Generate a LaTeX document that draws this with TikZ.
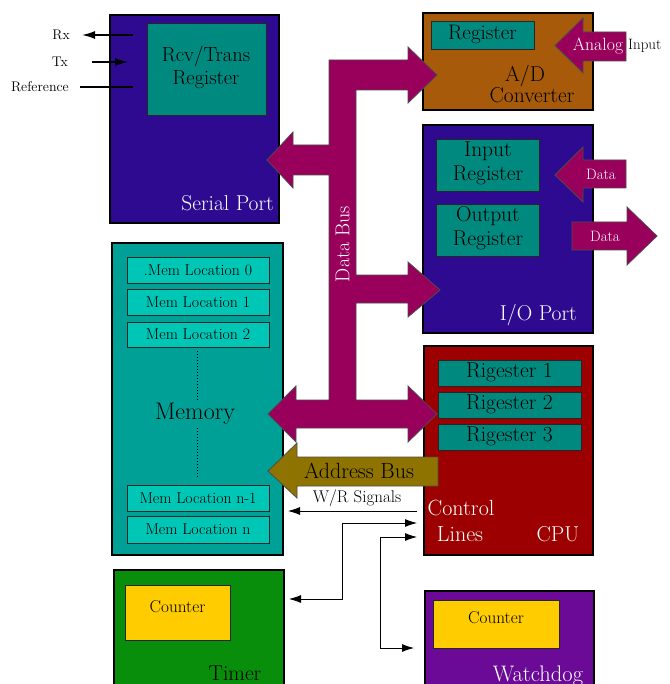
\documentclass[tikz,border=0pt]{standalone}
\usetikzlibrary{arrows.meta}
\definecolor{portblue}{HTML}{2E0A90}
\definecolor{regteal}{HTML}{00897E}
\definecolor{memteal}{HTML}{00A096}
\definecolor{loccyan}{HTML}{00C6B6}
\definecolor{adbrown}{HTML}{A65A0A}
\definecolor{busmag}{HTML}{99005C}
\definecolor{addrolive}{HTML}{8F7300}
\definecolor{cpured}{HTML}{9C0000}
\definecolor{timergreen}{HTML}{088E0A}
\definecolor{wdpurple}{HTML}{6A0A96}
\definecolor{cntyellow}{HTML}{FFCC00}
\begin{document}
\begin{tikzpicture}[x=1pt,y=-1pt,
  blk/.style={draw=black, line width=1.3pt, rectangle, anchor=north west, inner sep=0pt, outer sep=0pt},
  reg/.style={draw=black!85, line width=0.8pt, rectangle, anchor=north west, inner sep=0pt, outer sep=0pt, align=center},
  big/.style={font=\fontsize{21.5}{23}\selectfont},
  mid/.style={font=\fontsize{17.5}{19}\selectfont},
  loc/.style={font=\fontsize{15.8}{17}\selectfont},
  sml/.style={font=\fontsize{14}{16}\selectfont},
  bus/.style={draw=black!70, line width=0.8pt, fill=busmag},
  conn/.style={draw=black, line width=0.8pt, {Latex[length=12pt,width=8pt]}-{Latex[length=12pt,width=8pt]}},
  sig/.style={draw=black, line width=1.5pt}
]
\useasboundingbox (0,0) rectangle (669,684);
\clip (0,0) rectangle (669,684);
\fill[white] (0,0) rectangle (669,684);

% ---------- Serial port ----------
\node[blk, fill=portblue, minimum width=169pt, minimum height=208pt] (serial) at (110,15) {};
\node[reg, fill=regteal, minimum width=119pt, minimum height=92pt] (rcv) at (147,23) {};
\node[font=\fontsize{20.5}{23}\selectfont, align=center] (rcvtxt) at (206,67) {Rcv/Trans\\Register};
\node[big, text=white, anchor=base east, inner sep=0pt] (seriallbl) at (274,211) {Serial Port};

% ---------- A/D converter ----------
\node[blk, fill=adbrown, minimum width=170pt, minimum height=97pt] (ad) at (423,13) {};
\node[reg, fill=regteal, minimum width=103pt, minimum height=28pt] (adreg) at (431,21) {};
\node[font=\fontsize{21}{23}\selectfont, anchor=base, inner sep=0pt] (adregtxt) at (482.5,40) {Register};
\node[big, anchor=base, inner sep=0pt] (adlbl1) at (525,82) {A/D};
\node[big, anchor=base, inner sep=0pt] (adlbl2) at (532,103) {Converter};

% ---------- I/O port ----------
\node[blk, fill=portblue, minimum width=170pt, minimum height=208pt] (io) at (423,125) {};
\node[reg, fill=regteal, minimum width=103pt, minimum height=52pt] (inreg) at (436,139) {};
\node[big, anchor=base, inner sep=0pt] (inregtxt1) at (488,157) {Input};
\node[big, anchor=base, inner sep=0pt] (inregtxt2) at (488,181) {Register};
\node[reg, fill=regteal, minimum width=103pt, minimum height=52pt] (outreg) at (436,204) {};
\node[big, anchor=base, inner sep=0pt] (outregtxt1) at (488,222) {Output};
\node[big, anchor=base, inner sep=0pt] (outregtxt2) at (488,246) {Register};
\node[big, text=white, anchor=base east, inner sep=0pt] (iolbl) at (577,320) {I/O Port};

% ---------- Memory ----------
\node[blk, fill=memteal, minimum width=171pt, minimum height=312pt] (mem) at (112,243) {};
\node[reg, fill=loccyan, minimum width=142pt, minimum height=26pt] (loc0) at (127,257) {};
\node[loc] (loc0t) at (198,270) {.Mem Location 0};
\node[reg, fill=loccyan, minimum width=142pt, minimum height=26pt] (loc1) at (127,289) {};
\node[loc] (loc1t) at (198,302) {Mem Location 1};
\node[reg, fill=loccyan, minimum width=142pt, minimum height=25pt] (loc2) at (127,322) {};
\node[loc] (loc2t) at (198,334.5) {Mem Location 2};
\node[reg, fill=loccyan, minimum width=142pt, minimum height=26pt] (locn1) at (127,485) {};
\node[loc] (locn1t) at (198,498) {Mem Location n-1};
\node[reg, fill=loccyan, minimum width=142pt, minimum height=27pt] (locn) at (127,516) {};
\node[loc] (locnt) at (198,529.5) {Mem Location n};
\draw[dotted, line width=1pt] (197,351) -- (197,401);
\draw[dotted, line width=1pt] (197,428) -- (197,477);
\node[font=\fontsize{24}{26}\selectfont] (memlbl) at (195,414) {Memory};

% ---------- CPU ----------
\node[blk, fill=cpured, minimum width=169pt, minimum height=209pt] (cpu) at (424,346) {};
\node[reg, fill=regteal, minimum width=143pt, minimum height=26pt] (r1) at (438,360) {};
\node[big] (r1t) at (509.5,372) {Rigester 1};
\node[reg, fill=regteal, minimum width=143pt, minimum height=26pt] (r2) at (438,392) {};
\node[big] (r2t) at (509.5,404) {Rigester 2};
\node[reg, fill=regteal, minimum width=143pt, minimum height=26pt] (r3) at (438,424) {};
\node[big] (r3t) at (509.5,436) {Rigester 3};
\node[font=\fontsize{22}{24}\selectfont, text=white, anchor=base, inner sep=0pt] (ctl1) at (461,515) {Control};
\node[font=\fontsize{22}{24}\selectfont, text=white, anchor=base, inner sep=0pt] (ctl2) at (460,541) {Lines};
\node[big, text=white, anchor=base, inner sep=0pt] (cpulbl) at (558,541) {CPU};

% ---------- Timer ----------
\node[blk, fill=timergreen, minimum width=170pt, minimum height=130pt] (timer) at (114,570) {};
\node[reg, fill=cntyellow, minimum width=105pt, minimum height=55pt] (tcnt) at (125,585) {};
\node[font=\fontsize{17.2}{19}\selectfont] (tcntt) at (177.5,607) {Counter};
\node[big, anchor=base, inner sep=0pt] (timerlbl) at (235,680) {Timer};

% ---------- Watchdog ----------
\node[blk, fill=wdpurple, minimum width=169pt, minimum height=110pt] (wd) at (425,591) {};
\node[reg, fill=cntyellow, minimum width=126pt, minimum height=48pt] (wcnt) at (433,600) {};
\node[font=\fontsize{17.2}{19}\selectfont] (wcntt) at (496,618) {Counter};
\node[font=\fontsize{22.5}{24}\selectfont, text=white, anchor=base, inner sep=0pt] (wdlbl) at (538,681) {Watchdog};

% ---------- Data bus ----------
\draw[bus] (329,60) -- (408,60) -- (408,47) -- (437,75) -- (408,103) -- (408,90)
  -- (356,90) -- (356,275) -- (408,275) -- (408,262) -- (440,290) -- (408,317) -- (408,303)
  -- (356,303) -- (356,400) -- (408,400) -- (408,386) -- (437,414) -- (408,442) -- (408,428)
  -- (296,428) -- (296,442) -- (268,414) -- (296,386) -- (296,400) -- (329,400)
  -- (329,175) -- (293,175) -- (293,188) -- (267,160) -- (293,132) -- (293,145) -- (329,145) -- cycle;
\node[font=\fontsize{20}{22}\selectfont, text=white, rotate=90] (dbus) at (342.5,244) {Data Bus};

% ---------- Address bus ----------
\draw[draw=black!70, line width=0.8pt, fill=addrolive] (438,457) -- (297,457) -- (297,443) -- (268,471)
  -- (297,498) -- (297,486) -- (438,486) -- cycle;
\node[font=\fontsize{22}{24}\selectfont] (abus) at (359,471) {Address Bus};

% ---------- Analog input ----------
\draw[bus] (626,32) -- (583,32) -- (583,18) -- (555,45.5) -- (583,73) -- (583,61) -- (626,61) -- cycle;
\node[font=\fontsize{17.8}{19}\selectfont, text=white, inner sep=0pt] (analog) at (598,46) {Analog};
\node[font=\fontsize{15}{17}\selectfont, anchor=west, inner sep=0pt] (ainput) at (628,46) {Input};

% ---------- Data in / out ----------
\draw[bus] (626,160) -- (583,160) -- (583,147) -- (555,175) -- (583,202) -- (583,188) -- (626,188) -- cycle;
\node[font=\fontsize{15}{17}\selectfont, text=white] (datain) at (601,174) {Data};
\draw[bus] (572,222) -- (627,222) -- (627,207) -- (657,236) -- (627,265) -- (627,250) -- (572,250) -- cycle;
\node[font=\fontsize{15}{17}\selectfont, text=white] (dataout) at (605,236) {Data};

% ---------- Serial lines ----------
\node[sml, anchor=east, inner sep=0pt] (rx) at (70,35) {Rx};
\node[sml, anchor=east, inner sep=0pt] (tx) at (68,62) {Tx};
\node[sml, anchor=east, inner sep=0pt] (refl) at (69,87) {Reference};
\coordinate (rxa) at (133,35);
\coordinate (txa) at (128,62);
\coordinate (refa) at (133,87);
\draw[sig, -{Latex[length=13pt,width=8pt]}] (rxa) -- ([xshift=12pt]rx.east);
\draw[sig, -{Latex[length=13pt,width=8pt]}] ([xshift=24pt]tx.east) -- (txa);
\draw[sig] ([xshift=11pt]refl.east) -- (refa);

% ---------- Control signals ----------
\coordinate (wrs) at (417,511);
\coordinate (wre) at (288,511);
\draw[line width=0.8pt, -{Latex[length=12pt,width=8pt]}] (wrs) -- (wre);
\node[font=\fontsize{17}{19}\selectfont, anchor=base, inner sep=0pt] (wrlbl) at (357,502) {W/R Signals};
\coordinate (tport) at (289,599);
\coordinate (c1) at (417,523);
\coordinate (wport) at (414,648);
\coordinate (c2) at (417,537);
\draw[conn] (tport) -| (342,523) -- (c1);
\draw[conn] (wport) -| (380,537) -- (c2);
\end{tikzpicture}
\end{document}
